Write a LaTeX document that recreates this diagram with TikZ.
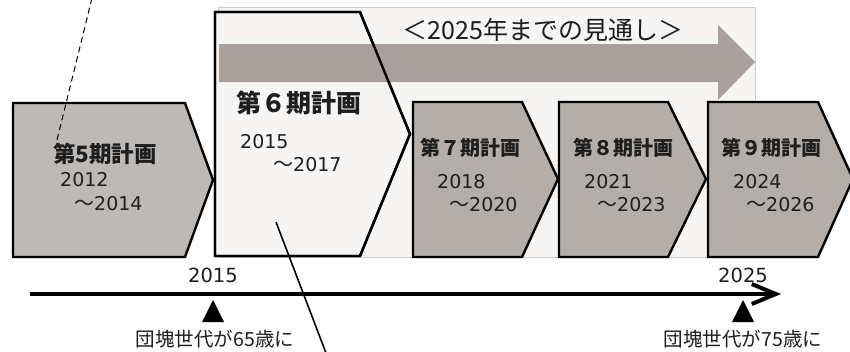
\documentclass[tikz,border=0pt]{standalone}
\usepackage{fontspec}
\setmainfont{Noto Sans CJK JP}
\newfontfamily\latfont{DejaVu Sans}
\usetikzlibrary{arrows.meta}
\definecolor{chevgray}{HTML}{B3AEAA}
\definecolor{chevfive}{HTML}{BDB9B6}
\definecolor{arrowgray}{HTML}{A8A09D}
\definecolor{bglight}{HTML}{F7F5F3}
\definecolor{bgborder}{HTML}{CCCCCC}
\definecolor{txt}{HTML}{1E1E1E}
\newcommand{\yrs}[1]{{\fontsize{20pt}{24pt}\selectfont ～}{\latfont #1}}
\tikzset{
  chev/.style={draw=black, line width=2.4pt, line join=miter, fill=chevgray},
  plantitle/.style={text=txt, font=\bfseries\fontsize{20pt}{24pt}\selectfont, inner sep=0pt},
  yr/.style={text=txt, font=\fontsize{19pt}{23pt}\selectfont, inner sep=0pt, anchor=west},
  bottomlabel/.style={text=txt, font=\fontsize{19.5pt}{23pt}\selectfont, inner sep=0pt},
  marker/.style={fill=black},
}
\begin{document}
\begin{tikzpicture}[x=1pt,y=-1pt]
\useasboundingbox (0,0) rectangle (850,351);
\clip (0,0) rectangle (850,351);
\fill[white] (0,0) rectangle (850,351);
% background
\draw[bgborder, line width=0.8pt, fill=bglight] (218,7) rectangle (755,257);
% 6th plan (fill)
\path[chev, fill=bglight] (215,12) -- (360,12) -- (410,134) -- (360,256) -- (215,256) -- cycle;
% big arrow
\fill[arrowgray] (219,44) -- (718,44) -- (718,25) -- (755,62) -- (718,100) -- (718,82) -- (219,82) -- cycle;
% 6th outline over arrow
\draw[line width=2.4pt, line join=miter] (215,12) -- (360,12) -- (410,134) -- (360,256) -- (215,256) -- cycle;
\node[text=txt, font=\fontsize{25pt}{30pt}\selectfont, inner sep=0pt] (title) at (543,30) {＜2025年までの見通し＞};
% other chevrons
\path[chev, fill=chevfive] (13,103) -- (185,103) -- (213,180) -- (185,257) -- (13,257) -- cycle;
\path[chev] (413,102) -- (522,102) -- (558,179) -- (522,257) -- (413,257) -- cycle;
\path[chev] (559,102) -- (668,102) -- (706,179) -- (668,257) -- (559,257) -- cycle;
\path[chev] (708,102) -- (818,102) -- (853,179) -- (818,257) -- (708,257) -- cycle;
% texts
\node[plantitle, font=\bfseries\fontsize{22.5pt}{27pt}\selectfont] (p5) at (105,154) {第5期計画};
\node[yr] (p5a) at (60,180) {\latfont 2012};
\node[yr] (p5b) at (74,204) {\yrs{2014}};
\node[plantitle, font=\bfseries\fontsize{25pt}{30pt}\selectfont] (p6) at (299,103) {第６期計画};
\node[yr] (p6a) at (240,142) {\latfont 2015};
\node[yr] (p6b) at (273,165) {\yrs{2017}};
\node[plantitle] (p7) at (470,148) {第７期計画};
\node[yr] (p7a) at (437,182) {\latfont 2018};
\node[yr] (p7b) at (449,205) {\yrs{2020}};
\node[plantitle] (p8) at (623,148) {第８期計画};
\node[yr] (p8a) at (584,182) {\latfont 2021};
\node[yr] (p8b) at (597,205) {\yrs{2023}};
\node[plantitle] (p9) at (771,148) {第９期計画};
\node[yr] (p9a) at (733,182) {\latfont 2024};
\node[yr] (p9b) at (746,205) {\yrs{2026}};
% timeline
\coordinate (tl0) at (30,294);
\coordinate (tl1) at (781,294);
\draw[line width=4pt, -{Straight Barb[length=24pt,width=20pt]}] (tl0) -- (tl1);
\node[yr, anchor=center, font=\latfont\fontsize{19.5pt}{23pt}\selectfont] (t2015) at (213,275) {2015};
\node[yr, anchor=center, font=\latfont\fontsize{19.5pt}{23pt}\selectfont] (t2025) at (743,275) {2025};
\fill[marker] (202,322) -- (213,300) -- (224,322) -- cycle;
\fill[marker] (732,322) -- (743,300) -- (754,322) -- cycle;
\node[bottomlabel] (l65) at (215,339) {団塊世代が65歳に};
\node[bottomlabel] (l75) at (743,339) {団塊世代が75歳に};
% callout lines
\coordinate (d0) at (92,-2);
\coordinate (d1) at (57,140);
\draw[line width=1pt, dash pattern=on 6pt off 4pt] (d0) -- (d1);
\coordinate (s0) at (276,222);
\coordinate (s1) at (326,353);
\draw[line width=1.6pt] (s0) -- (s1);
\end{tikzpicture}
\end{document}
